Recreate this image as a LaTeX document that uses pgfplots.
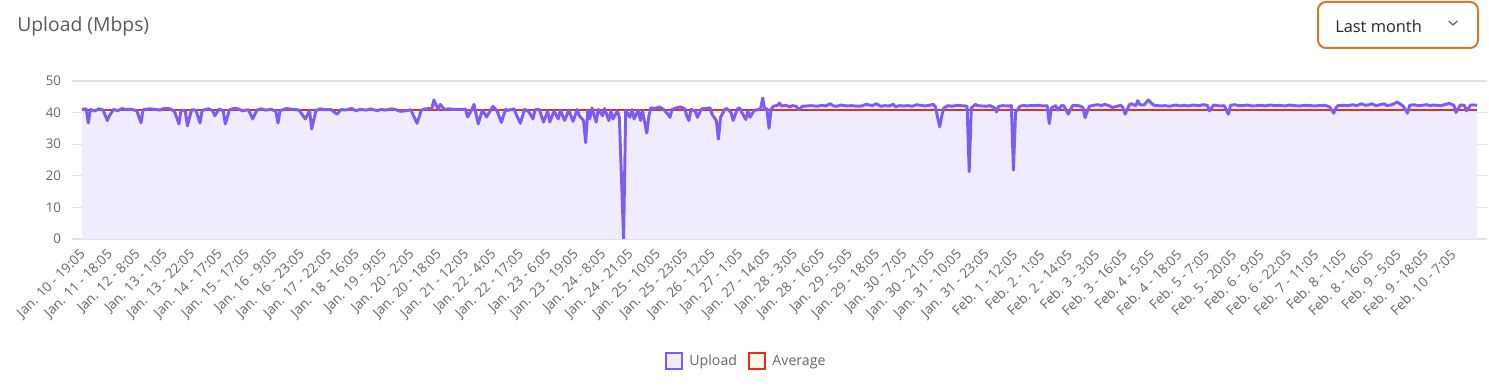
\documentclass[border=0pt]{standalone}
\usepackage{pgfplots}
\usepackage{pgfplotstable}
\pgfplotsset{compat=1.18}
\usepackage{fontspec}
\setmainfont{Open Sans}
\definecolor{upl}{HTML}{7C5CF4}
\definecolor{uplfill}{HTML}{F0ECFD}
\definecolor{avgred}{HTML}{E0301E}
\definecolor{avgfill}{HTML}{FFF8E6}
\definecolor{gridc}{HTML}{E2E2E2}
\definecolor{txt}{HTML}{666666}
\definecolor{ttl}{HTML}{595959}
\definecolor{ddb}{HTML}{D4782A}
\pgfplotstableread{
x y
0 41
2 41.2
3 36.7
4 41
6 40.5
8 41.2
10 40.8
12 37.5
13 39
15 41
17 40.6
19 41.3
21 40.9
23 41.1
26 40.6
28 36.8
29 40.9
32 41.2
35 41
37 40.8
39 41.3
42 41.2
44 40.2
46 36.4
47 40.8
49 40.5
50 35.8
52 40.9
54 40.8
56 36.7
57 40.7
60 41.2
62 40.6
63 39
65 41.1
67 40.6
68 36.4
70 40.9
72 41.3
74 41.2
76 40.6
79 40.9
81 38
83 40.8
85 41.2
87 40.8
90 41
92 40.4
93 36.7
94 40.6
97 41.3
99 41.1
102 40.9
103 40.8
106 38
108 40.7
109 34.8
111 40.6
113 41.2
115 40.9
118 41
121 39.5
123 41
125 40.8
128 41.3
130 40.6
132 41
135 40.8
137 41.2
140 40.6
142 41
144 40.8
147 41.2
149 40.9
151 40.4
154 40.6
156 40.9
159 36.6
161 40.8
163 41.2
166 41.3
167 44
169 41
170 42.6
172 41
174 41.2
177 41
179 41
182 41.1
183 38.6
185 41
186 42.6
188 36.4
190 40.8
192 38.6
194 40.9
195 42
197 40.5
199 36.9
201 41
202 40.7
205 41.2
206 39.5
208 36.6
210 41
212 40.3
214 38
215 40.9
217 41
219 37
221 40.5
222 37
224 40.5
226 38
227 40.8
229 37.5
231 40.8
233 37.2
235 41
236 39
238 37.5
239 30.5
240 40.8
241 38
242 41.5
244 37
245 41
247 39
248 41.3
250 37.5
251 40.5
252 38
254 40.5
255 38.5
257 0
258 40.8
260 38.5
261 41
262 38
264 40.8
265 37.5
266 40.5
268 33.5
269 39
270 41.5
272 41.3
274 41.8
276 41
278 39.5
279 38.5
280 41
282 41.5
284 41.8
286 41.2
287 39
288 37.5
289 41
291 40.5
292 38.5
294 41.2
296 41.3
298 41.5
299 39.5
301 37.5
302 31.6
303 38.5
305 41
306 41.3
308 40
309 37.5
311 41.2
312 41.5
314 39
315 37.8
316 40.5
317 38.5
319 40.8
320 40.8
322 41.2
323 44.6
324 41
325 41.2
326 35
327 41
328 42
330 42.3
331 43
332 42.1
334 42.3
336 41.8
337 42.2
339 42
340 40.9
342 42
344 42.1
346 42.2
349 42
351 42.3
353 42.1
355 42.8
357 42
359 42.1
360 42.4
363 42.1
365 42.2
368 42
370 42.1
372 42.6
375 42.2
377 42.8
379 42
381 42.2
383 42.1
385 42.6
386 41.9
388 42.2
390 42.1
392 42.2
394 42
396 42.5
398 42.3
400 42.1
402 42.3
404 42.6
405 41.8
406 38.5
407 35.5
408 39
409 41.5
411 42.2
413 42
415 42.3
417 42.2
419 42.1
420 42
421 21.3
422 41.5
424 42.6
425 42.2
427 42.1
429 42
431 42.2
433 41.5
434 40.2
435 42
437 42.2
439 42.1
441 42.2
442 21.8
443 40
445 42
447 42.3
448 42.1
450 42.2
452 42.2
454 42.3
456 42.1
458 42.2
459 36.5
460 41.5
462 42.2
463 40.8
465 42.3
466 42.1
468 39.5
470 42.2
472 42.3
474 42
475 41.5
476 38.4
478 42
480 42.3
482 42.5
484 42.2
485 42.6
487 42.3
489 41.6
491 42
493 42.3
494 41.5
495 39.5
497 42.5
498 42.8
500 42.2
501 43.8
502 42.5
504 42.4
506 44
508 42.6
509 42.3
512 42.1
514 42.2
516 42
519 42.4
521 42.1
523 42.3
525 42.1
527 42.4
530 42.2
532 42.5
534 42.3
535 40.5
537 42.4
538 42.3
540 42.1
542 42.2
544 39.5
545 42.3
547 42.5
549 42.2
551 42.2
553 42.4
555 42.1
558 42.2
560 42.3
561 42.1
564 42.4
566 42.2
568 42.3
571 42.1
573 42.4
575 42.2
578 42.1
580 42.3
583 42.2
585 42.1
587 42.2
590 42.3
592 41.8
594 39.8
595 41.5
596 42.2
598 42.3
601 42.2
603 42.5
605 42.2
607 42.8
609 42.3
611 42.5
612 42.8
614 42.2
616 42.5
618 42.8
619 42.2
621 42.4
623 42.9
624 43.4
626 42.5
627 42
629 39.8
630 42.3
632 42.5
634 42.2
636 42.3
638 42.5
640 42.2
641 42.4
643 42.3
645 42.2
647 42.6
649 42.9
651 42.3
652 40
654 42.4
656 42.3
657 40.5
659 42.4
661 42.4
662 42.3
}\upl
\begin{document}
\begin{tikzpicture}
\path[use as bounding box] (0,0) rectangle (1116.75pt,293.25pt);
\node[anchor=west, text=ttl, font=\fontsize{14.5pt}{17pt}\selectfont, inner sep=0pt] at (12.75pt,273.75pt) {Upload (Mbps)};
\draw[ddb, line width=1.5pt, rounded corners=6pt] (988.5pt,291.75pt) rectangle (1108.5pt,257.25pt);
\node[anchor=west, text=black!85, font=\fontsize{12.3pt}{14pt}\selectfont, inner sep=0pt] at (1001.25pt,273.75pt) {Last month};
\draw[txt, line width=0.9pt] (1086.5pt,277.5pt) -- (1089.75pt,274.5pt) -- (1093pt,277.5pt);
\begin{axis}[
  at={(61.5pt,114pt)}, anchor=south west,
  scale only axis, width=1046.25pt, height=118.5pt,
  xmin=0, xmax=662, ymin=0, ymax=50,
  axis line style={draw=none},
  ytick={0,10,...,50},
  ymajorgrids, grid style={gridc, line width=0.8pt},
  tick align=outside,
  major tick length=7.5pt,
  y tick style={gridc, line width=0.8pt},
  x tick style={draw=none},
  xtick={0,13,...,650},
  xticklabels={Jan. 10 - 19:05, Jan. 11 - 18:05, Jan. 12 - 8:05, Jan. 13 - 1:05, Jan. 13 - 22:05, Jan. 14 - 17:05, Jan. 15 - 17:05, Jan. 16 - 9:05, Jan. 16 - 23:05, Jan. 17 - 22:05, Jan. 18 - 16:05, Jan. 19 - 9:05, Jan. 20 - 2:05, Jan. 20 - 18:05, Jan. 21 - 12:05, Jan. 22 - 4:05, Jan. 22 - 17:05, Jan. 23 - 6:05, Jan. 23 - 19:05, Jan. 24 - 8:05, Jan. 24 - 21:05, Jan. 25 - 10:05, Jan. 25 - 23:05, Jan. 26 - 12:05, Jan. 27 - 1:05, Jan. 27 - 14:05, Jan. 28 - 3:05, Jan. 28 - 16:05, Jan. 29 - 5:05, Jan. 29 - 18:05, Jan. 30 - 7:05, Jan. 30 - 21:05, Jan. 31 - 10:05, Jan. 31 - 23:05, Feb. 1 - 12:05, Feb. 2 - 1:05, Feb. 2 - 14:05, Feb. 3 - 3:05, Feb. 3 - 16:05, Feb. 4 - 5:05, Feb. 4 - 18:05, Feb. 5 - 7:05, Feb. 5 - 20:05, Feb. 6 - 9:05, Feb. 6 - 22:05, Feb. 7 - 11:05, Feb. 8 - 1:05, Feb. 8 - 16:05, Feb. 9 - 5:05, Feb. 9 - 18:05, Feb. 10 - 7:05},
  xticklabel style={rotate=45, anchor=east, text=txt, font=\fontsize{10.2pt}{12pt}\selectfont, inner sep=1pt, yshift=-2.5pt},
  yticklabel style={text=txt, font=\fontsize{10pt}{12pt}\selectfont, inner sep=1pt, xshift=-7pt},
  /pgf/number format/assume math mode=true,
  legend style={at={(0.4760,-0.772)}, anchor=center, draw=none, fill=none, legend columns=2, font=\fontsize{10.6pt}{12pt}\selectfont, text=txt, nodes={inner sep=1pt}, /tikz/every odd column/.append style={column sep=4pt}, /tikz/every even column/.append style={column sep=7.5pt}},
  legend cell align=left,
]
\addplot[draw=none, fill=uplfill, forget plot] table[x=x,y=y] {\upl} \closedcycle;
\addplot[avgred, line width=1.8pt, forget plot] coordinates {(0,40.9) (662,40.9)};
\addplot[upl, line width=2.2pt, line join=round, forget plot] table[x=x,y=y] {\upl};
\addlegendimage{legend image code/.code={\draw[draw=upl,fill=uplfill,line width=1.5pt] (0pt,-5.8pt) rectangle (11.6pt,5.8pt);}}
\addlegendentry{Upload}
\addlegendimage{legend image code/.code={\draw[draw=avgred,fill=avgfill,line width=1.5pt] (0pt,-5.8pt) rectangle (11.6pt,5.8pt);}}
\addlegendentry{Average}
\end{axis}
\end{tikzpicture}
\end{document}
